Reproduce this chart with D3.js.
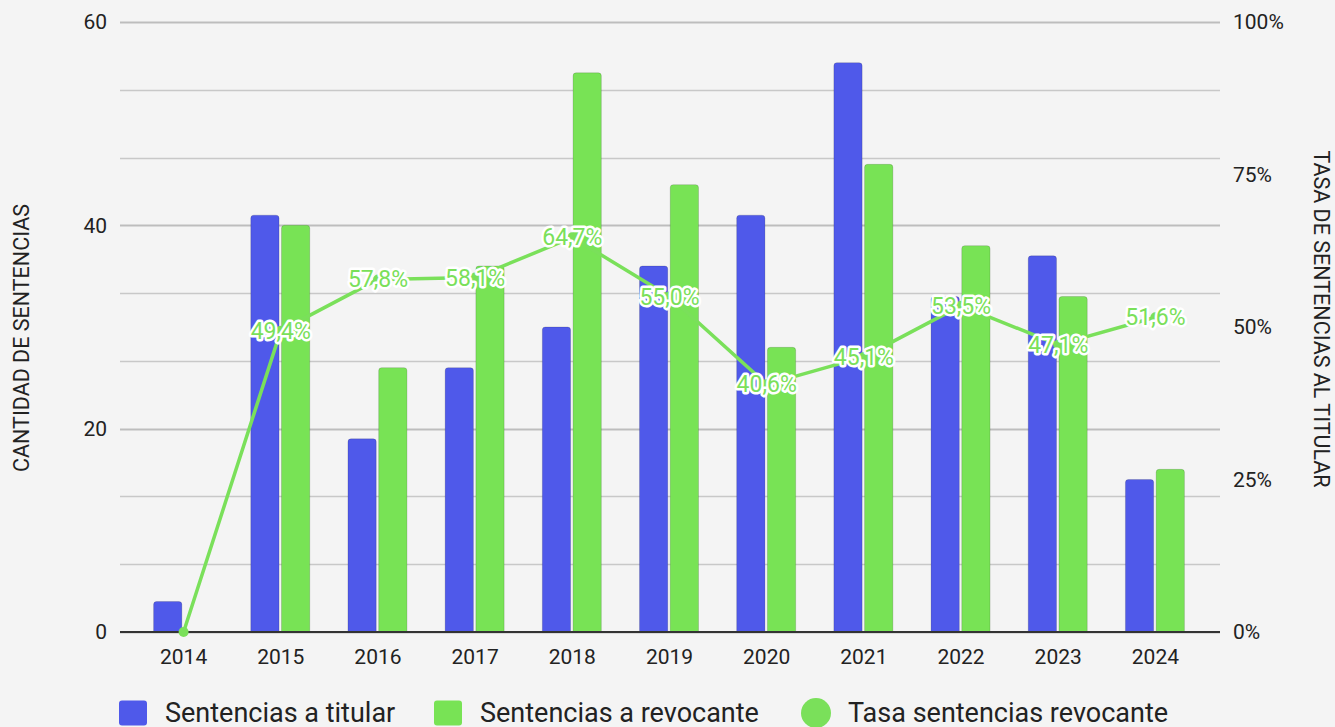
<!DOCTYPE html>
<html lang="es">
<head>
<meta charset="UTF-8">
<title>Sentencias</title>
<script src="https://cdnjs.cloudflare.com/ajax/libs/d3/7.8.5/d3.min.js"></script>
<style>
    body { margin: 0; background: #f4f4f4; font-family: Roboto, Arial, sans-serif; }
    #chart { width: 1335px; height: 727px; }
</style>
</head>
<body>
<div id="chart"></div>
<script>
    // data
    const years = ["2014", "2015", "2016", "2017", "2018", "2019", "2020", "2021", "2022", "2023", "2024"];
    const titular = [3, 41, 19, 26, 30, 36, 41, 56, 33, 37, 15];
    const revocante = [0, 40, 26, 36, 55, 44, 28, 46, 38, 33, 16];
    const tasa = [0, 49.4, 57.8, 58.1, 64.7, 55.0, 40.6, 45.1, 53.5, 47.1, 51.6];
    const leftTicks = [0, 20, 40, 60];
    const rightTicks = [0, 25, 50, 75, 100];

    const W = 1335, H = 727;
    const plot = {left: 120, right: 1220, top: 22, bottom: 632};
    const blue = "#4f59ea", green = "#78e355", lineGreen = "#7ae05a";

    const svg = d3.select("#chart").append("svg")
        .attr("width", W).attr("height", H)
        .style("font-family", "Roboto, Arial, sans-serif");

    const x = d3.scaleBand().domain(years).range([135, 1204]);
    const y = d3.scaleLinear().domain([0, 60]).range([plot.bottom, plot.top]);
    const y2 = d3.scaleLinear().domain([0, 100]).range([plot.bottom, plot.top]);
    const inner = d3.scaleBand().domain(["t", "r"]).range([0, 59]).paddingInner(0.08);

    // gridlines (major on labelled ticks, minor between)
    const grid = d3.range(0, 61, 20 / 3);
    svg.append("g").selectAll("line").data(grid).join("line")
        .attr("x1", plot.left).attr("x2", plot.right)
        .attr("y1", d => Math.round(y(d)) + 0.5).attr("y2", d => Math.round(y(d)) + 0.5)
        .attr("stroke", (d, i) => i % 3 === 0 ? "#bdbdbd" : "#c8c8c8")
        .attr("stroke-width", (d, i) => i % 3 === 0 ? 2 : 1.5);

    // left axis labels
    svg.append("g").selectAll("text").data(leftTicks).join("text")
        .attr("x", 107).attr("y", d => y(d)).attr("dy", "0.35em")
        .attr("text-anchor", "end").attr("font-size", 21).attr("fill", "#222")
        .text(d => d);

    // right axis labels
    svg.append("g").selectAll("text").data(rightTicks).join("text")
        .attr("x", 1233).attr("y", d => y2(d)).attr("dy", "0.35em")
        .attr("font-size", 21).attr("fill", "#222")
        .text(d => d + "%");

    // bars
    const groups = svg.append("g").selectAll("g").data(years).join("g")
        .attr("transform", d => `translate(${x(d) + x.bandwidth() / 2 - 30},0)`);

    function bar(sel, key, vals, color) {
        sel.append("path")
            .attr("fill", color)
            .attr("stroke", "rgba(0,0,0,0.18)")
            .attr("stroke-width", 0.8)
            .attr("d", (d, i) => {
                const v = vals[i];
                if (!v) return null;
                const x0 = inner(key), w = inner.bandwidth();
                const top = y(v), bot = y(0), r = 3;
                return `M${x0},${bot}V${top + r}Q${x0},${top} ${x0 + r},${top}H${x0 + w - r}Q${x0 + w},${top} ${x0 + w},${top + r}V${bot}Z`;
            });
    }
    bar(groups, "t", titular, blue);
    bar(groups, "r", revocante, green);

    // baseline
    svg.append("line")
        .attr("x1", plot.left).attr("x2", plot.right)
        .attr("y1", plot.bottom).attr("y2", plot.bottom)
        .attr("stroke", "#333").attr("stroke-width", 2);

    // x labels
    svg.append("g").selectAll("text").data(years).join("text")
        .attr("x", d => x(d) + x.bandwidth() / 2).attr("y", 664)
        .attr("text-anchor", "middle").attr("font-size", 21).attr("fill", "#222")
        .text(d => d);

    // rate line
    const pts = tasa.map((v, i) => ({v, cx: x(years[i]) + x.bandwidth() / 2}));
    svg.append("path").datum(pts)
        .attr("fill", "none").attr("stroke", lineGreen).attr("stroke-width", 3.5)
        .attr("stroke-linejoin", "round")
        .attr("d", d3.line().x(d => d.cx).y(d => y2(d.v)));

    svg.append("g").selectAll("circle").data(pts).join("circle")
        .attr("cx", d => d.cx).attr("cy", d => y2(d.v)).attr("r", 5).attr("fill", lineGreen);

    const fmt = v => v.toFixed(1).replace(".", ",") + "%";
    svg.append("g").selectAll("text").data(pts.filter(d => d.v > 0)).join("text")
        .attr("x", d => d.cx).attr("y", d => y2(d.v)).attr("dy", "0.35em")
        .attr("text-anchor", "middle").attr("font-size", 23)
        .attr("fill", lineGreen).attr("stroke", "#fff").attr("stroke-width", 5)
        .attr("stroke-linejoin", "round").attr("paint-order", "stroke")
        .text(d => fmt(d.v));

    // axis titles
    svg.append("text")
        .attr("transform", "translate(29,338) rotate(-90)")
        .attr("text-anchor", "middle").attr("font-size", 21.5).attr("fill", "#222")
        .text("CANTIDAD DE SENTENCIAS");
    svg.append("text")
        .attr("transform", "translate(1314,319) rotate(90)")
        .attr("text-anchor", "middle").attr("font-size", 21.5).attr("fill", "#222")
        .text("TASA DE SENTENCIAS AL TITULAR");

    // legend
    const legend = [
        {label: "Sentencias a titular", color: blue, shape: "rect", x: 119},
        {label: "Sentencias a revocante", color: green, shape: "rect", x: 434},
        {label: "Tasa sentencias revocante", color: lineGreen, shape: "circle", x: 801}
    ];
    const lg = svg.append("g").selectAll("g").data(legend).join("g")
        .attr("transform", d => `translate(${d.x},713)`);
    lg.filter(d => d.shape === "rect").append("rect")
        .attr("x", 0).attr("y", -12.5).attr("width", 28).attr("height", 25).attr("rx", 3)
        .attr("fill", d => d.color);
    lg.filter(d => d.shape === "circle").append("circle")
        .attr("cx", 15).attr("cy", 0).attr("r", 15)
        .attr("fill", d => d.color);
    lg.append("text")
        .attr("x", d => d.shape === "circle" ? 47 : 46).attr("y", 0).attr("dy", "0.35em")
        .attr("font-size", 27).attr("fill", "#222")
        .text(d => d.label);
</script>
</body>
</html>
